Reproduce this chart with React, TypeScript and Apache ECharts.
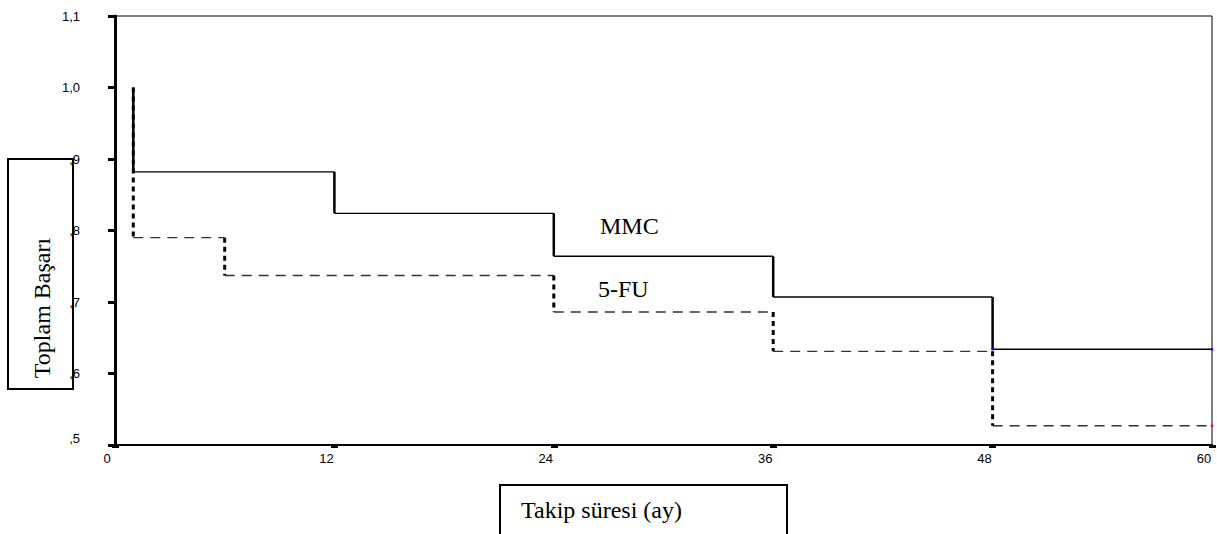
import React, { useEffect, useRef } from "react";
import * as echarts from "echarts";

// Kaplan-Meier step data (time in months, cumulative success after each step)
const startValue = 1.0;
const endTime = 60;
const mmcTimes = [1, 12, 24, 36, 48];
const mmcValues = [0.882, 0.824, 0.764, 0.707, 0.634];
const fuTimes = [1, 6, 24, 36, 48];
const fuValues = [0.79, 0.737, 0.686, 0.631, 0.527];

const xTitle = "Takip süresi (ay)";
const yTitle = "Toplam Başarı";
const mmcLabel = "MMC";
const fuLabel = "5-FU";

function hSegs(times: number[], values: number[]) {
  return times.map((t, i) => [
    [t, values[i]],
    [i + 1 < times.length ? times[i + 1] : endTime, values[i]],
  ]);
}
function vSegs(times: number[], values: number[]) {
  return times.map((t, i) => [
    [t, i === 0 ? startValue : values[i - 1]],
    [t, values[i]],
  ]);
}

export default function App() {
  const ref = useRef<HTMLDivElement>(null);
  useEffect(() => {
    if (!ref.current) return;
    const chart = echarts.init(ref.current, undefined, { renderer: "svg" });
    const series: any[] = [];
    hSegs(fuTimes, fuValues).forEach((seg) =>
      series.push({
        type: "line",
        data: seg,
        symbol: "none",
        silent: true,
        z: 2,
        lineStyle: { color: "#333", width: 1.4, type: [10, 7] },
      })
    );
    vSegs(fuTimes, fuValues).forEach((seg) =>
      series.push({
        type: "line",
        data: seg,
        symbol: "none",
        silent: true,
        z: 2,
        lineStyle: { color: "#000", width: 3, type: [5, 4] },
      })
    );
    hSegs(mmcTimes, mmcValues).forEach((seg) =>
      series.push({
        type: "line",
        data: seg,
        symbol: "none",
        silent: true,
        z: 3,
        lineStyle: { color: "#000", width: 1.4, type: "solid" },
      })
    );
    vSegs(mmcTimes, mmcValues).forEach((seg) =>
      series.push({
        type: "line",
        data: seg,
        symbol: "none",
        silent: true,
        z: 3,
        lineStyle: { color: "#000", width: 2.5, type: "solid" },
      })
    );
    series.push({
      type: "scatter",
      data: [
        [endTime, mmcValues[mmcValues.length - 1]],
        [mmcTimes[mmcTimes.length - 1], mmcValues[mmcValues.length - 1]],
      ],
      symbolSize: 3,
      itemStyle: { color: "#0000ff" },
      silent: true,
      z: 4,
      clip: false,
    });
    series.push({
      type: "scatter",
      data: [[endTime, fuValues[fuValues.length - 1]]],
      symbolSize: 3,
      itemStyle: { color: "#ff0000" },
      silent: true,
      z: 4,
      clip: false,
    });

    chart.setOption({
      animation: false,
      backgroundColor: "#fff",
      grid: {
        left: 115,
        top: 16,
        right: 5,
        bottom: 89,
        show: true,
        borderColor: "#000",
        borderWidth: 1,
        containLabel: false,
      },
      xAxis: {
        type: "value",
        min: 0,
        max: 60,
        interval: 12,
        splitLine: { show: false },
        axisLine: { show: true, lineStyle: { color: "#000", width: 2 } },
        axisTick: { show: true, length: 3, lineStyle: { color: "#000", width: 7 } },
        axisLabel: {
          margin: 7,
          color: "#000",
          fontFamily: "Liberation Sans",
          fontSize: 13,
          padding: [0, 16, 0, 0],
        },
      },
      yAxis: {
        type: "value",
        min: 0.5,
        max: 1.1,
        interval: 0.1,
        splitLine: { show: false },
        axisLine: { show: true, lineStyle: { color: "#000", width: 3 } },
        axisTick: { show: true, length: 7, lineStyle: { color: "#000", width: 3 } },
        axisLabel: {
          margin: 35,
          color: "#000",
          fontFamily: "Liberation Sans",
          fontSize: 13,
          formatter: (v: number) => {
            const s = v.toFixed(1).replace(".", ",");
            const t = v < 1 ? s.replace(/^0/, "") : s;
            return Math.abs(v - 0.5) < 1e-9 ? "{low|" + t + "}" : t;
          },
          rich: {
            low: {
              fontFamily: "Liberation Sans",
              fontSize: 13,
              color: "#000",
              padding: [0, 0, 14, 0],
            },
          },
        },
      },
      graphic: [
        {
          type: "rect",
          shape: { x: 8, y: 159, width: 65, height: 230 },
          style: { fill: "#fff", stroke: "#000", lineWidth: 2 },
        },
        {
          type: "text",
          x: 42,
          y: 308,
          rotation: Math.PI / 2,
          style: {
            text: yTitle,
            fill: "#000",
            font: "24px 'Liberation Serif'",
            align: "center",
            verticalAlign: "middle",
          },
        },
        {
          type: "rect",
          shape: { x: 500, y: 485, width: 287, height: 70 },
          style: { fill: "#fff", stroke: "#000", lineWidth: 2 },
        },
        {
          type: "text",
          x: 521,
          y: 510,
          style: {
            text: xTitle,
            fill: "#000",
            font: "24px 'Liberation Serif'",
            align: "left",
            verticalAlign: "middle",
          },
        },
        {
          type: "text",
          x: 600,
          y: 226,
          style: {
            text: mmcLabel,
            fill: "#000",
            font: "24px 'Liberation Serif'",
            align: "left",
            verticalAlign: "middle",
          },
        },
        {
          type: "text",
          x: 598,
          y: 289,
          style: {
            text: fuLabel,
            fill: "#000",
            font: "24px 'Liberation Serif'",
            align: "left",
            verticalAlign: "middle",
          },
        },
      ],
      series,
    });
    return () => chart.dispose();
  }, []);
  return (
    <div
      ref={ref}
      style={{ position: "absolute", left: 0, top: 0, width: 1217, height: 534 }}
    />
  );
}
